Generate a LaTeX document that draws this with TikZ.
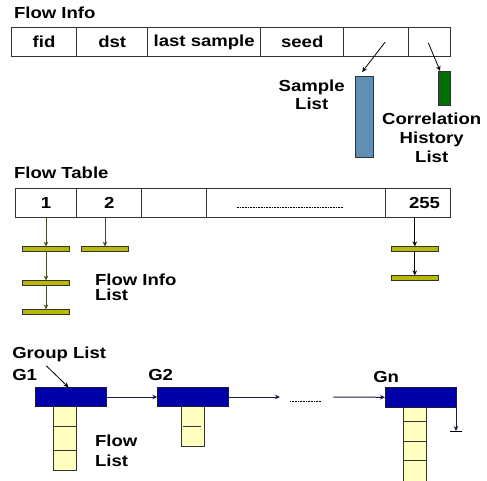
\documentclass[tikz,border=0pt]{standalone}
\usepackage{fontspec}
\setmainfont{Liberation Sans Bold}[FakeStretch=1.16]
\usetikzlibrary{arrows.meta,calc}

\definecolor{sampleblue}{HTML}{5F8FB5}
\definecolor{corrgreen}{HTML}{007000}
\definecolor{olivebar}{HTML}{B8B800}
\definecolor{groupblue}{HTML}{0000A8}
\definecolor{flowyellow}{HTML}{FFFFC0}
\definecolor{edgegray}{HTML}{333333}
\definecolor{olivewire}{HTML}{4A4626}
\definecolor{navywire}{HTML}{1A1A40}

\begin{document}
\begin{tikzpicture}[x=1pt,y=-1pt,
  every node/.style={font=\fontsize{16}{18}\selectfont, inner sep=0pt, outer sep=0pt},
  label/.style={anchor=base west},
  cell/.style={draw=edgegray, line width=0.9pt, fill=white},
  inforow/.style={cell, minimum height=29.4pt},
  tablerow/.style={cell, minimum height=29pt},
  bar/.style={draw=edgegray, line width=0.8pt, fill=olivebar, minimum width=46.6pt, minimum height=4.8pt},
  flowcell/.style={draw=edgegray, line width=0.8pt, fill=flowyellow},
  groupbox/.style={draw=navywire, line width=0.6pt, fill=groupblue, minimum width=71pt, minimum height=19.4pt},
  ptr/.style={-{Stealth[length=5pt,width=4.5pt]}, line width=1pt},
]
\useasboundingbox (0,0) rectangle (487,481);

% ---------- Flow Info record ----------
\node[label] (infotitle) at (14,18.4) {Flow Info};
\node[inforow, minimum width=65.4pt] (fid)  at (44,42)     {fid};
\node[inforow, minimum width=71pt]   (dst)  at (112.2,42)  {dst};
\node[inforow, minimum width=113pt]  (last) at (204.2,42)  {last sample};
\node[inforow, minimum width=83pt]   (seed) at (302.2,42)  {seed};
\node[inforow, minimum width=65pt]   (e1)   at (376.2,42)  {};
\node[inforow, minimum width=41.3pt] (e2)   at (429.35,42) {};

\node[draw=edgegray, line width=0.8pt, fill=sampleblue, minimum width=18.3pt, minimum height=81.3pt] (sample) at (364.15,116.65) {};
\node[draw=edgegray, line width=0.8pt, fill=corrgreen, minimum width=11.7pt, minimum height=34.7pt] (corr) at (444.15,88.35) {};

\draw[ptr, line width=0.8pt] ([xshift=9pt]e1.center) -- ([xshift=-2pt,yshift=4pt]sample.north);
\draw[ptr, line width=0.8pt] ([xshift=-1pt,yshift=-1pt]e2.center) -- ([xshift=-4pt]corr.north);

% multi-line labels: the base anchor sits on the last line
\node[align=center, font=\fontsize{16}{18.3}\selectfont, anchor=base] (samplelbl) at (311.7,110) {Sample\\List};
\node[align=center, font=\fontsize{16}{19}\selectfont, anchor=base] (corrlbl) at (431.7,163) {Correlation\\History\\List};

% ---------- Flow Table ----------
\node[label] (tabletitle) at (14,178.4) {Flow Table};
\node[tablerow, minimum width=61.4pt]  (c1) at (46,202.8)    {1};
\node[tablerow, minimum width=65pt]    (c2) at (109.2,202.8) {2};
\node[tablerow, minimum width=65pt]    (c3) at (174.2,202.8) {};
\node[tablerow, minimum width=178.3pt] (c4) at (295.85,202.8) {};
\node[tablerow, minimum width=65pt]    (c5) at (417.5,202.8) {\hspace*{14pt}255};
\draw[densely dotted, line width=0.6pt] (236.7,207) -- (342.7,207);

% flow info lists hanging off the table
\node[bar] (b11) at (46,249)     {};
\node[bar] (b12) at (46,283)     {};
\node[bar] (b13) at (46,311.8)   {};
\node[bar] (b21) at (105,249)    {};
\node[bar] (b51) at (414.8,248.8) {};
\node[bar] (b52) at (414.8,277.8) {};

\draw[ptr, olivewire] (b11.north |- c1.south) -- (b11.north);
\draw[ptr, olivewire] (b11.south) -- (b12.north);
\draw[ptr, olivewire] (b12.south) -- (b13.north);
\draw[ptr, olivewire] (b21.north |- c2.south) -- (b21.north);
\draw[ptr] (b51.north |- c5.south) -- (b51.north);
\draw[ptr] (b51.south) -- (b52.north);

\node[align=left, font=\fontsize{16}{15}\selectfont, anchor=base west] (infolistlbl) at (95,300) {Flow Info\\List};

% ---------- Group List ----------
\node[label] (grouptitle) at (12.3,358.5) {Group List};
\node[label] (g1lbl) at (12.3,380) {G1};
\node[label] (g2lbl) at (148.3,380) {G2};
\node[label] (gnlbl) at (373.3,382) {Gn};

% flow lists below each group
\node[flowcell, minimum width=23.4pt, minimum height=19.3pt] (f11) at (65,416.35) {};
\node[flowcell, minimum width=23.4pt, minimum height=24pt]   (f12) at (65,438)    {};
\node[flowcell, minimum width=23.4pt, minimum height=20pt]   (f13) at (65,460)    {};
\node[flowcell, minimum width=23pt, minimum height=39.3pt]   (f21) at (192.5,426.35) {};
\draw[edgegray, line width=0.8pt] (183.3,426) -- (200.7,426);
\node[flowcell, minimum width=22.7pt, minimum height=14pt]   (fn1) at (414.65,414)    {};
\node[flowcell, minimum width=22.7pt, minimum height=20.7pt] (fn2) at (414.65,431.35) {};
\node[flowcell, minimum width=22.7pt, minimum height=19pt]   (fn3) at (414.65,451.2)  {};
\node[flowcell, minimum width=22.7pt, minimum height=21pt]   (fn4) at (414.65,471.2)  {};

\node[groupbox] (g1) at (70.5,397)   {};
\node[groupbox] (g2) at (192.8,397)  {};
\node[groupbox, minimum width=71.7pt] (gn) at (420.85,397.3) {};

\draw[ptr, line width=0.8pt] ([xshift=34pt,yshift=-4pt]grouptitle.south west) -- ([xshift=-2pt]g1.north);

\coordinate (gapL) at (280,397);
\coordinate (gapR) at (333.3,397);
\draw[ptr, navywire] (g1.east) -- (g2.west);
\draw[ptr, navywire] (g2.east) -- (gapL);
\draw[densely dotted, line width=0.6pt] (290,401) -- (321,401);
\draw[ptr, navywire] (gapR) -- (gn.west);

\coordinate (gnull) at (456,431);
\draw[ptr, navywire] ([xshift=-0.7pt]gn.south east) -- (gnull);
\draw[line width=0.9pt] ([xshift=-6pt]gnull) -- ([xshift=6pt]gnull);

\node[align=left, font=\fontsize{16}{20}\selectfont, anchor=base west] (flowlistlbl) at (95,466) {Flow\\List};
\end{tikzpicture}
\end{document}
